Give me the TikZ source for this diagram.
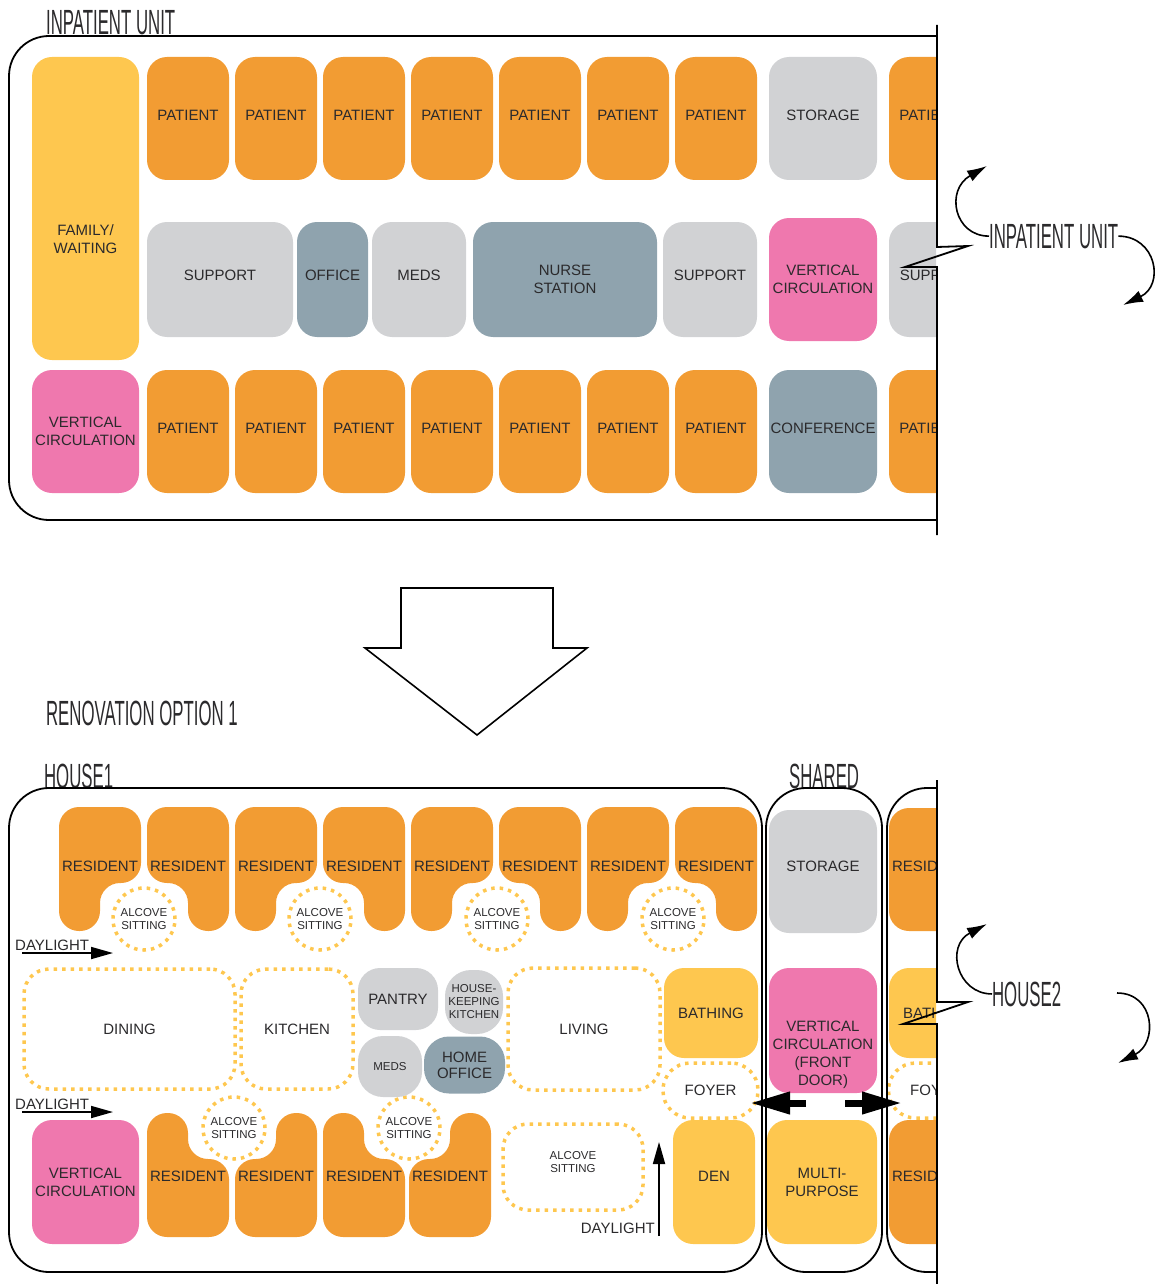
\documentclass[tikz,border=0pt]{standalone}
\usepackage{fontspec}
\setmainfont{Liberation Sans}
\usetikzlibrary{arrows.meta}
\definecolor{patOrange}{HTML}{F29C33}
\definecolor{famYellow}{HTML}{FEC74F}
\definecolor{supGrey}{HTML}{D1D2D4}
\definecolor{ofcBlue}{HTML}{8FA3AE}
\definecolor{circPink}{HTML}{EF78AE}
\definecolor{ink}{HTML}{2B2A2C}
\newcommand{\roomfont}{\fontsize{15}{18}\selectfont}
\newcommand{\alcovefont}{\fontsize{11.5}{13}\selectfont}
\newcommand{\headfont}{\fontsize{35}{35}\selectfont}
\tikzset{
room/.style={
  rectangle,
  rounded corners=20pt,
  inner sep=0pt,
  align=center,
  text=ink,
  font=\roomfont
  },
wh/.style 2 args={minimum width=#1pt, minimum height=#2pt},
lift/.style={text depth=#1pt},
lift/.default=7,
patient/.style={room, fill=patOrange},
family/.style={room, fill=famYellow},
support/.style={room, fill=supGrey},
office/.style={room, fill=ofcBlue},
circ/.style={room, fill=circPink},
zone/.style={room, draw=famYellow, line width=3.5pt, dash pattern=on 3.5pt off 5pt, rounded corners=25pt},
alcove/.style={circle, draw=famYellow, line width=3.5pt, dash pattern=on 3.5pt off 5pt,
  minimum size=62pt, inner sep=0pt, align=center, text=ink, font=\alcovefont},
txt/.style={inner sep=0pt, align=center, text=ink, font=\roomfont},
heading/.style={inner sep=0pt, anchor=base west, text=ink, font=\headfont, xscale=0.48},
frame/.style={line width=1.8pt},
daylight/.style={line width=1.8pt, -{Triangle[length=22pt,width=12pt]}},
door/.style={line width=7pt, -{Triangle[length=40pt,width=21pt]}},
turn/.style={line width=1.6pt, -{Latex[length=20pt,width=12pt]}}
}

\begin{document}
\begin{tikzpicture}[x=1pt,y=-1pt]
\useasboundingbox (0,0) rectangle (1154,1284);

\node[heading] (titleTop) at (46,35) {INPATIENT UNIT};
\node[family, wh={107}{303}] (fam) at (85.5,208.5) {};
\node[txt] (famText) at (85.5,239) {FAMILY/\\WAITING};
\foreach \i in {0,...,6}{
  \node[patient, lift, wh={82}{123}] (patTop\i) at (188+88*\i,118.5) {PATIENT};
  \node[patient, lift, wh={82}{123}] (patBot\i) at (188+88*\i,431.5) {PATIENT};
}
\node[support, lift, wh={108}{123}] (storTop) at (823,118.5) {STORAGE};
\node[support, lift=8, wh={146}{115}] (supA) at (220,279.5) {SUPPORT};
\node[office, lift=8, wh={71}{115}] (ofc) at (332.5,279.5) {OFFICE};
\node[support, lift=8, wh={94}{115}] (meds) at (419,279.5) {MEDS};
\node[office, wh={184}{115}] (nurse) at (565,279.5) {NURSE\\STATION};
\node[support, lift=8, wh={94}{115}] (supB) at (710,279.5) {SUPPORT};
\node[circ, wh={108}{123}] (vcTop) at (823,279.5) {VERTICAL\\CIRCULATION};
\node[circ, wh={107}{123}] (vcLeft) at (85.5,431.5) {VERTICAL\\CIRCULATION};
\node[office, lift, wh={108}{123}] (conf) at (823,431.5) {CONFERENCE};
\begin{scope}
\clip (880,30) rectangle (936,530);
\node[patient, lift, wh={82}{123}] (patTopCut) at (930,118.5) {PATIENT};
\node[support, lift=8, wh={94}{115}] (supCut) at (936,279.5) {SUPPORT};
\node[patient, lift, wh={82}{123}] (patBotCut) at (930,431.5) {PATIENT};
\end{scope}
\draw[frame, rounded corners=40pt] (937,36) -- (9,36) -- (9,520) -- (937,520);
\draw[frame] (937,25) -- (937,247) -- (968,246) -- (905,267) -- (937,267) -- (937,535);

\node[heading] (unitLbl) at (989,248) {INPATIENT UNIT};
\coordinate (unitUp) at (987,166);
\coordinate (unitDown) at (1123,305);
\draw[turn] (unitLbl.west) .. controls +(-35,0) and +(-42,24) .. (unitUp);
\draw[turn] (unitLbl.east) .. controls +(38,0) and +(42,-20) .. (unitDown);

\draw[line width=1.6pt] (401,588) -- (553,588) -- (553,648) -- (587,648)
  -- (477,735) -- (365,648) -- (401,648) -- cycle;

\node[heading] (titleReno) at (46,725) {RENOVATION OPTION 1};
\node[heading] (titleHouse) at (44,788) {HOUSE1};
\node[heading] (titleShared) at (789,788) {SHARED};

\foreach \j in {0,...,3}{
  \pgfmathsetmacro\xa{59+176*\j}
  \pgfmathsetmacro\xb{147+176*\j}
  \fill[patOrange, rounded corners=20pt] (\xa,807) -- ++(82,0) -- ++(0,76)
    -- ++(-41,0) -- ++(0,48) -- ++(-41,0) -- cycle;
  \fill[patOrange, rounded corners=20pt] (\xb,807) -- ++(82,0) -- ++(0,124)
    -- ++(-41,0) -- ++(0,-48) -- ++(-41,0) -- cycle;
}
\foreach \i in {0,...,7}
  \node[txt] (resTop\i) at (100+88*\i,866) {RESIDENT};
\foreach \x [count=\n] in {144,320,497,673}
  \node[alcove] (alcTop\n) at (\x,919) {ALCOVE\\SITTING};

\foreach \xa in {147,323}
  \fill[patOrange, rounded corners=20pt] (\xa,1113) -- ++(41,0) -- ++(0,46)
    -- ++(41,0) -- ++(0,78) -- ++(-82,0) -- cycle;
\foreach \xb in {235,409}
  \fill[patOrange, rounded corners=20pt] (\xb+41,1113) -- ++(41,0) -- ++(0,124)
    -- ++(-82,0) -- ++(0,-78) -- ++(41,0) -- cycle;
\foreach \x [count=\n] in {188,276,364,450}
  \node[txt] (resBot\n) at (\x,1176) {RESIDENT};
\foreach \x [count=\n] in {234,409}
  \node[alcove] (alcBot\n) at (\x,1128) {ALCOVE\\SITTING};

\node[zone, wh={211}{120}] (dining) at (129.5,1029) {DINING};
\node[zone, wh={112}{120}] (kitchen) at (297,1029) {KITCHEN};
\node[support, wh={80}{62}, rounded corners=22pt] (pantry) at (398,999) {PANTRY};
\node[support, wh={58}{64}, rounded corners=26pt, font=\alcovefont] (hkKitchen) at (474,1002)
  {HOUSE-\\KEEPING\\KITCHEN};
\node[support, wh={64}{61}, rounded corners=25pt, font=\alcovefont] (medsB) at (390,1066.5) {MEDS};
\node[office, wh={81}{57}, rounded corners=25pt] (homeOfc) at (464.5,1065) {HOME\\[-2pt]OFFICE};
\node[zone, wh={152}{122}] (living) at (584,1029) {LIVING};
\node[family, wh={94}{90}] (bathing) at (711,1013) {BATHING};
\node[zone, wh={95}{55}, rounded corners=27pt] (foyer) at (710.5,1090.5) {FOYER};
\node[family, lift=12, wh={82}{124}] (den) at (714,1182) {DEN};
\node[zone, wh={140}{86}] (alcBig) at (573,1167) {};
\node[txt, font=\alcovefont] (alcBigText) at (573,1162) {ALCOVE\\SITTING};
\node[circ, wh={107}{124}] (vcBot) at (85.5,1182) {VERTICAL\\CIRCULATION};

\node[support, lift=11, wh={108}{123}] (storShared) at (823,871.5) {STORAGE};
\node[circ, wh={108}{125}] (vcDoor) at (823,1030.5) {};
\node[txt] (vcDoorText) at (823,1055) {VERTICAL\\CIRCULATION\\(FRONT\\DOOR)};
\node[family, wh={110}{124}] (multi) at (822,1182) {MULTI-\\PURPOSE};

\begin{scope}
\clip (880,790) rectangle (936,1270);
\node[patient, lift, wh={82}{123}] (resCutA) at (930,869.5) {RESIDENT};
\node[family, wh={94}{90}] (bathCut) at (936,1013) {BATHING};
\node[zone, wh={95}{55}, rounded corners=27pt] (foyCut) at (936,1090.5) {FOYER};
\node[patient, lift=12, wh={82}{124}] (resCutB) at (930,1182) {RESIDENT};
\end{scope}

\node[txt, anchor=base west] (dayA) at (15,950) {DAYLIGHT};
\coordinate (dayAs) at (22,953);
\coordinate (dayAe) at (113,953);
\draw[daylight] (dayAs) -- (dayAe);
\node[txt, anchor=base west] (dayB) at (15,1109) {DAYLIGHT};
\coordinate (dayBs) at (22,1112);
\coordinate (dayBe) at (113,1112);
\draw[daylight] (dayBs) -- (dayBe);
\node[txt, anchor=base east] (dayC) at (655,1233) {DAYLIGHT};
\coordinate (dayCs) at (659,1236);
\coordinate (dayCe) at (659,1142);
\draw[daylight] (dayCs) -- (dayCe);

\coordinate (doorLs) at (806,1103);
\coordinate (doorLe) at (750,1103);
\coordinate (doorRs) at (845,1103);
\coordinate (doorRe) at (902,1103);
\draw[door] (doorLs) -- (doorLe);
\draw[door] (doorRs) -- (doorRe);

\draw[frame, rounded corners=40pt] (9,788) rectangle (762,1272);
\draw[frame, rounded corners=40pt] (766,788) rectangle (882,1272);
\draw[frame, rounded corners=40pt] (937,788) -- (887,788) -- (887,1272) -- (937,1272);
\draw[frame] (937,780) -- (937,1002) -- (968,1002) -- (903,1024) -- (937,1024) -- (937,1284);

\node[heading] (house2Lbl) at (992,1006) {HOUSE2};
\coordinate (h2Up) at (987,924);
\coordinate (h2Start) at (1117,993);
\coordinate (h2Down) at (1118,1063);
\draw[turn] (house2Lbl.west) .. controls +(-35,0) and +(-42,22) .. (h2Up);
\draw[turn] (h2Start) .. controls +(38,0) and +(40,-20) .. (h2Down);
\end{tikzpicture}
\end{document}
